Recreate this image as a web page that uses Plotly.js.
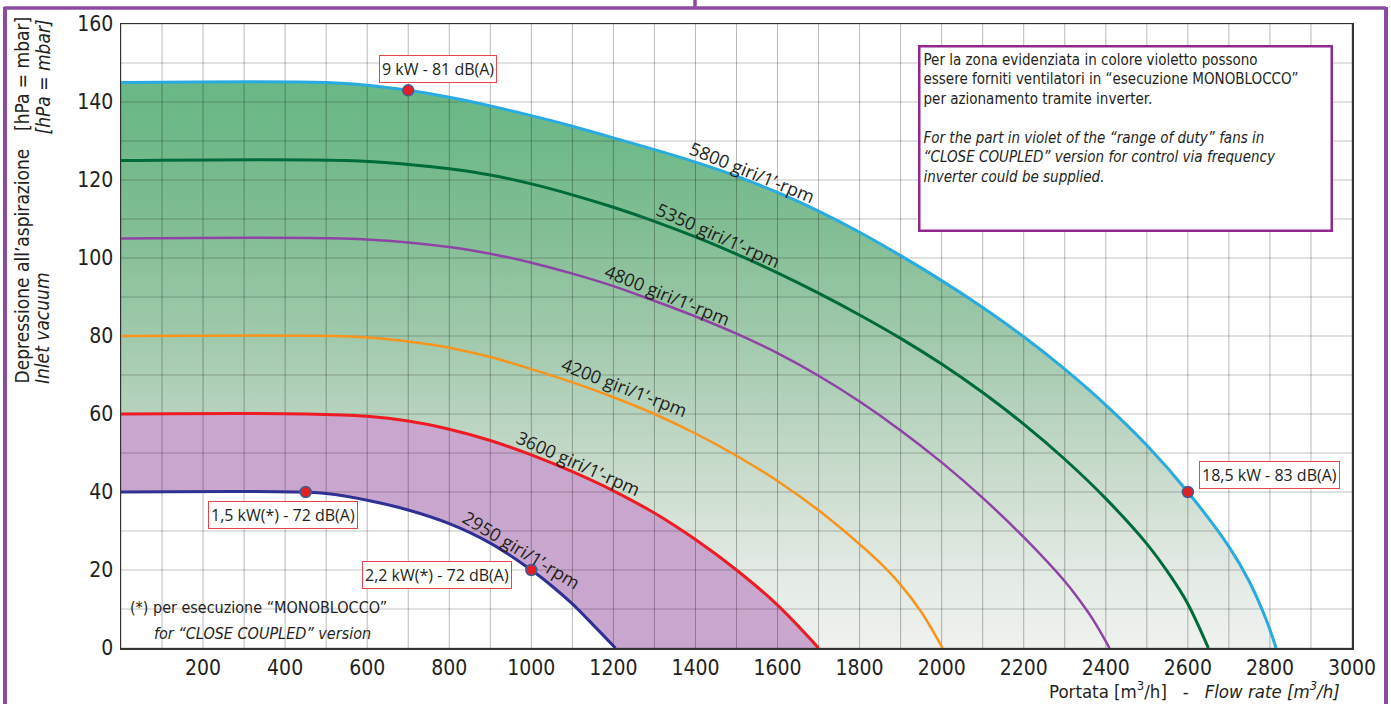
<!DOCTYPE html>
<html><head><meta charset="utf-8">
<script src="https://cdn.plot.ly/plotly-3.0.1.min.js"></script>
<style>html,body{margin:0;padding:0;background:#fff;}#chart{width:1391px;height:704px;}</style>
</head><body><div id="chart"></div>
<script>
// ---- data ----
const x5800 = [0,500,600,700,800,900,1000,1100,1200,1300,1400,1500,1600,1700,1800,1900,2000,2100,2200,2300,2400,2500,2600,2700,2750,2790,2815];
const y5800 = [145,145,144.3,143,141.2,139,136.5,133.8,130.8,127.8,124.6,121,116.8,112,106.6,100.6,94.2,87.3,79.8,71.5,62.3,52,40,26,17,7.5,0];
const x5350 = [0,550,700,800,900,1000,1100,1200,1300,1400,1500,1600,1700,1800,1900,2000,2100,2200,2300,2400,2500,2560,2600,2650];
const y5350 = [125,125,124,122.9,121.3,119,116.2,113,109.4,105.4,101,96.2,91,85.4,79.4,72.8,65.5,57.4,48.4,38.3,26.7,18.1,11.3,0];
const x4800 = [0,540,700,800,900,1000,1100,1200,1300,1400,1500,1600,1700,1800,1900,2000,2100,2200,2300,2332,2370,2409];
const y4800 = [105,105,104,102.8,101.1,98.8,96,92.8,89,85,80.6,75.6,69.8,63.2,55.8,47.6,38.5,28.4,17.1,12.8,7.1,0];
const x4200 = [0,520,600,700,800,900,1000,1100,1200,1300,1400,1500,1600,1700,1800,1850,1900,1950,2002];
const y4200 = [80,80,79.6,78.6,77,74.6,71.5,68.1,64.3,60,55,49.3,42.8,35.3,26.6,21.8,16.2,9.3,0];
const x3600 = [0,450,600,700,800,900,1000,1100,1200,1300,1400,1500,1600,1700];
const y3600 = [60,60,59.4,58.2,56.1,53.2,49.5,45.2,40.3,34.6,27.8,20,11,0];
const x2950 = [0,420,500,600,700,800,900,1000,1050,1100,1150,1205];
const y2950 = [40,40,39.6,37.9,35.4,31.9,26.9,20,15.9,11.3,6,0];

const pointX = [700,450,1000,2600];
const pointY = [143,40,20,40];
const pointLabels = ['9 kW - 81 dB(A)','1,5 kW(*) - 72 dB(A)','2,2 kW(*) - 72 dB(A)','18,5 kW - 83 dB(A)'];

const curveNames = ['5800 giri/1’-rpm','5350 giri/1’-rpm','4800 giri/1’-rpm','4200 giri/1’-rpm','3600 giri/1’-rpm','2950 giri/1’-rpm'];

const xTicks = [200,400,600,800,1000,1200,1400,1600,1800,2000,2200,2400,2600,2800,3000];
const yTicks = [0,20,40,60,80,100,120,140,160];

// ---- layout helpers ----
const W=1391,H=704,L=121,R=39,T=24,B=56;
const PW=W-L-R, PH=H-T-B;
const px=v=>(v-L)/PW, py=v=>(H-B-v)/PH;
const COND = "'Liberation Sans Narrow','DejaVu Sans Condensed','Roboto Condensed',Roboto,sans-serif";
const SANS = "'Open Sans','Noto Sans',sans-serif";
const TXT = '#231f20';

// grid lines derived from the axis steps
const gvx=[],gvy=[],ghx=[],ghy=[];
for(let v=0; v<=3000; v+=100){gvx.push(v,v,null); gvy.push(0,160,null);}
for(let v=0; v<=160; v+=10){ghx.push(0,3000,null); ghy.push(v,v,null);}

const sm = {shape:'spline', smoothing:1};
const traces = [
  {x:x5800,y:y5800,mode:'lines',line:{width:0,...sm},fill:'tozeroy',
   fillgradient:{type:'vertical',start:0,stop:145,
     colorscale:[[0,'#eff2ef'],[0.15,'#e1e9e2'],[0.3,'#cadccd'],[0.45,'#b1d0b9'],[0.6,'#98c6a5'],[0.75,'#80bd93'],[0.9,'#6fb989'],[1,'#69b885']]},
   hoverinfo:'skip'},
  {x:x3600,y:y3600,mode:'lines',line:{width:0,...sm},fill:'tozeroy',fillcolor:'#c9a6ce',hoverinfo:'skip'},
  {x:x2950,y:y2950,mode:'lines',line:{width:0,...sm},fill:'tozeroy',fillcolor:'#ffffff',hoverinfo:'skip'},
  {x:gvx,y:gvy,mode:'lines',line:{color:'rgba(0,0,0,0.28)',width:1},hoverinfo:'skip'},
  {x:ghx,y:ghy,mode:'lines',line:{color:'rgba(0,0,0,0.16)',width:1.5},hoverinfo:'skip'},
  {x:x5800,y:y5800,mode:'lines',line:{color:'#29abe2',width:3,...sm}},
  {x:x5350,y:y5350,mode:'lines',line:{color:'#006b3a',width:3,...sm}},
  {x:x4800,y:y4800,mode:'lines',line:{color:'#8e44a4',width:2.5,...sm}},
  {x:x4200,y:y4200,mode:'lines',line:{color:'#f7941d',width:2.5,...sm}},
  {x:x3600,y:y3600,mode:'lines',line:{color:'#ed1c24',width:3,...sm}},
  {x:x2950,y:y2950,mode:'lines',line:{color:'#2e3192',width:3,...sm}},
  {x:pointX,y:pointY,mode:'markers',marker:{color:'#e31e24',size:11,line:{color:'#3d5f96',width:1.5}}}
];

const ann = [];
// marker labels
const shifts=[[30,21],[-23,-23],[-94,-5],[82,17]];
pointLabels.forEach((t,i)=>ann.push({x:pointX[i],y:pointY[i],xref:'x',yref:'y',text:t,showarrow:false,
  xshift:shifts[i][0],yshift:shifts[i][1],font:{family:SANS,size:16,color:TXT},
  bgcolor:'#ffffff',bordercolor:'#e5444c',borderwidth:1,borderpad:2}));
// curve labels
const lblPos=[[1538,122.1,22],[1455,105.9,24],[1333,90.5,22],[1226,66.9,21],[1114,47.4,24],[977,25.1,31]];
curveNames.forEach((t,i)=>ann.push({x:lblPos[i][0],y:lblPos[i][1],xref:'x',yref:'y',text:t,showarrow:false,
  textangle:lblPos[i][2],font:{family:SANS,size:18,color:TXT}}));
// info box
ann.push({xref:'paper',yref:'paper',x:px(918),y:py(45),xanchor:'left',yanchor:'top',align:'left',valign:'top',
  width:404,height:176,bgcolor:'#ffffff',bordercolor:'#93278f',borderwidth:2.5,borderpad:3,showarrow:false,
  font:{family:COND,size:15,color:TXT},
  text:'Per la zona evidenziata in colore violetto possono<br>essere forniti ventilatori in “esecuzione MONOBLOCCO”<br>per azionamento tramite inverter.<br>\u00a0<br><i>For the part in violet of the “range of duty” fans in</i><br><i>“CLOSE COUPLED” version for control via frequency</i><br><i>inverter could be supplied.</i>'});
// footnote
ann.push({xref:'paper',yref:'paper',x:px(128),y:py(607),xanchor:'left',yanchor:'middle',showarrow:false,
  font:{family:COND,size:16,color:TXT},text:'(*) per esecuzione “MONOBLOCCO”'});
ann.push({xref:'paper',yref:'paper',x:px(152),y:py(633),xanchor:'left',yanchor:'middle',showarrow:false,
  font:{family:COND,size:16,color:TXT},text:'<i>for “CLOSE COUPLED” version</i>'});
// x title
ann.push({xref:'paper',yref:'paper',x:px(1342),y:py(690),xanchor:'right',yanchor:'middle',showarrow:false,
  font:{family:COND,size:18.5,color:TXT},
  text:'Portata [m<sup>3</sup>/h]\u00a0\u00a0\u00a0-\u00a0\u00a0\u00a0<i>Flow rate [m<sup>3</sup>/h]</i>'});
// y title
ann.push({xref:'paper',yref:'paper',x:px(22),y:py(386),xanchor:'center',yanchor:'bottom',textangle:-90,showarrow:false,
  font:{family:COND,size:19,color:TXT},text:'Depressione all’aspirazione'});
ann.push({xref:'paper',yref:'paper',x:px(22),y:py(15),xanchor:'center',yanchor:'top',textangle:-90,showarrow:false,
  font:{family:COND,size:19,color:TXT},text:'[hPa = mbar]'});
ann.push({xref:'paper',yref:'paper',x:px(42),y:py(386),xanchor:'center',yanchor:'bottom',textangle:-90,showarrow:false,
  font:{family:COND,size:19,color:TXT},text:'<i>Inlet vacuum</i>'});
ann.push({xref:'paper',yref:'paper',x:px(42),y:py(18),xanchor:'center',yanchor:'top',textangle:-90,showarrow:false,
  font:{family:COND,size:19,color:TXT},text:'<i>[hPa = mbar]</i>'});

// outer frame
const FR='#8a4c9e';
const shapes=[
  {type:'line',xref:'paper',yref:'paper',x0:px(4),x1:px(1386),y0:py(8),y1:py(8),line:{color:FR,width:3.5}},
  {type:'line',xref:'paper',yref:'paper',x0:px(5),x1:px(5),y0:py(7),y1:py(706),line:{color:FR,width:4}},
  {type:'line',xref:'paper',yref:'paper',x0:px(1386),x1:px(1386),y0:py(7),y1:py(706),line:{color:FR,width:4}},
  {type:'line',xref:'paper',yref:'paper',x0:px(695),x1:px(695),y0:py(-2),y1:py(8),line:{color:FR,width:3.5}}
];

const layout={
  width:W,height:H,margin:{l:L,r:R,t:T,b:B},paper_bgcolor:'#ffffff',plot_bgcolor:'#ffffff',
  showlegend:false,hovermode:false,font:{family:COND,color:TXT},
  xaxis:{range:[0,3000],tickvals:xTicks,showgrid:false,zeroline:false,showline:true,mirror:true,
    linecolor:'#333',linewidth:1.5,ticks:'',tickfont:{family:COND,size:21,color:TXT},ticklabelstandoff:0},
  yaxis:{range:[0,160],tickvals:yTicks,showgrid:false,zeroline:false,showline:true,mirror:true,
    linecolor:'#333',linewidth:1.5,ticks:'',tickfont:{family:COND,size:21,color:TXT},ticklabelstandoff:2},
  annotations:ann,shapes:shapes
};
Plotly.newPlot('chart',traces,layout,{staticPlot:true,displayModeBar:false});
</script></body></html>
